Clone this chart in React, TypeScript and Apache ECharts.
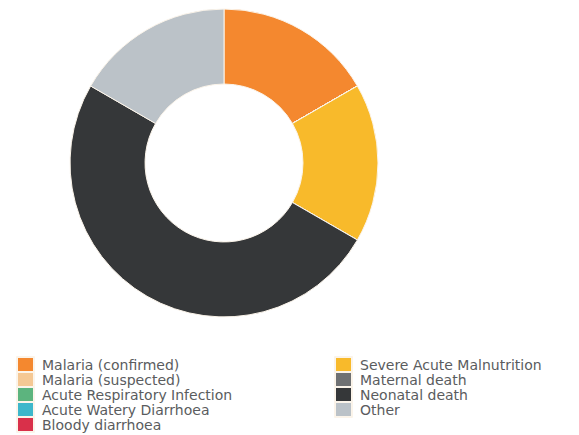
import React, { useEffect, useRef } from "react";
import * as echarts from "echarts";

const categories = [
  "Malaria (confirmed)",
  "Malaria (suspected)",
  "Acute Respiratory Infection",
  "Acute Watery Diarrhoea",
  "Bloody diarrhoea",
  "Severe Acute Malnutrition",
  "Maternal death",
  "Neonatal death",
  "Other",
];
const values = [1, 0, 0, 0, 0, 1, 0, 3, 1];
const colors = [
  "#F4882F",
  "#F5C894",
  "#5CB47E",
  "#3DB7CB",
  "#D9304A",
  "#F8BA2B",
  "#6F7173",
  "#353739",
  "#BBC2C8",
];
const leftLegend = categories.slice(0, 5);
const rightLegend = categories.slice(5);

export default function App() {
  const ref = useRef<HTMLDivElement>(null);
  useEffect(() => {
    if (!ref.current) return;
    const chart = echarts.init(ref.current, undefined, { renderer: "svg" });
    const textStyle = {
      fontFamily: "DejaVu Sans, Verdana, sans-serif",
      fontSize: 14,
      lineHeight: 15,
      color: "#5a5c5e",
      padding: [0, 0, 0, 3],
    };
    const legendBase = {
      orient: "vertical",
      top: 356,
      height: 79,
      itemWidth: 17,
      itemHeight: 15,
      itemGap: -2,
      icon: "rect",
      selectedMode: false,
      textStyle,
      padding: 0,
    };
    chart.setOption({
      animation: false,
      color: colors,
      legend: [
        { ...legendBase, left: 16, data: leftLegend },
        { ...legendBase, left: 334, data: rightLegend },
      ],
      series: [
        {
          type: "pie",
          center: [224, 163],
          radius: [79, 154],
          startAngle: 90,
          clockwise: true,
          label: { show: false },
          labelLine: { show: false },
          itemStyle: { borderColor: "#fbf4ea", borderWidth: 1 },
          emphasis: { disabled: true },
          data: categories.map((name, i) => ({ name, value: values[i] })),
        },
      ],
    });
    return () => chart.dispose();
  }, []);
  return (
    <div
      ref={ref}
      style={{ position: "fixed", left: 0, top: 0, width: 579, height: 435, background: "#fff" }}
    />
  );
}
